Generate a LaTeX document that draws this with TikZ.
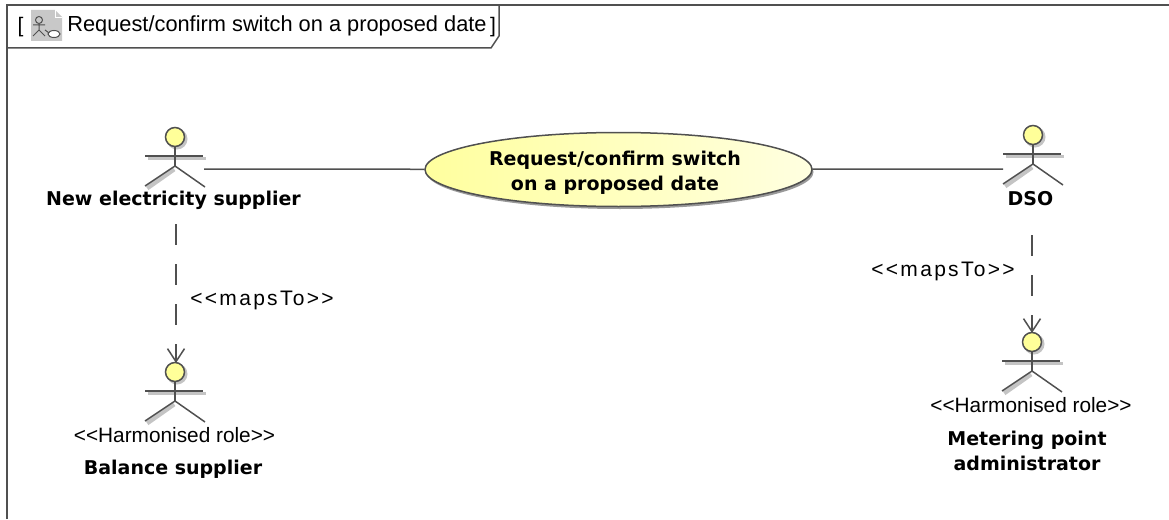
\documentclass[tikz,border=0pt]{standalone}
\usepackage{fontspec}
\setmainfont{Liberation Sans}
\newfontfamily\namefont{DejaVu Sans}
\newfontfamily\mapsfont[LetterSpace=11]{Liberation Sans}
\usetikzlibrary{shapes.geometric,arrows.meta,shadows}
\definecolor{framegray}{HTML}{505050}
\definecolor{headyellow}{HTML}{FFFF99}
\definecolor{shadowgray}{HTML}{C4C4C4}
\definecolor{icongray}{HTML}{C8C8C8}
\tikzset{
    umlline/.style={draw=framegray,line width=1.5pt},
    maps/.style={umlline,dash pattern=on 21pt off 19pt,-{Straight Barb[length=13pt,width=17pt]}},
    rolename/.style={font=\fontsize{19}{25}\namefont\bfseries,align=center,inner sep=0pt},
    stereo/.style={font=\fontsize{20.8}{24}\selectfont,inner sep=0pt},
    mapsto/.style={font=\fontsize{21}{24}\mapsfont,inner sep=0pt},
    usecase/.style={ellipse,draw=framegray,line width=1.5pt,minimum width=387pt,minimum height=74pt,inner sep=0pt,
        left color=headyellow!95!white,right color=headyellow!30!white,
        drop shadow={shadow xshift=1.5pt,shadow yshift=-2.5pt,fill=black,opacity=.4}},
    pics/stickman/.style={code={
        \draw[shadowgray,line width=3pt] (-27,21) -- (31,21);
        \draw[shadowgray,line width=5pt] (-1,32) -- (-28,51);
        \fill[shadowgray] (2,2) circle (10.5);
        \draw[umlline] (0,10) -- (0,29);
        \draw[umlline] (-30,19) -- (28,19);
        \draw[umlline] (-30,49) -- (0,29) -- (30,50);
        \draw[umlline,fill=headyellow] (0,0) circle (9.5);
    }}
}
\begin{document}
\begin{tikzpicture}[x=1pt,y=-1pt]
    \useasboundingbox (0,0) rectangle (1169,519);
    % frame
    \draw[umlline] (7,519) -- (7,5) -- (1169,5);
    \draw[umlline] (7,48) -- (491,48) -- (499,36) -- (499,5);
    % icon
    \fill[icongray] (31,10) -- (55,10) -- (62,17) -- (62,41) -- (31,41) -- cycle;
    \draw[white,line width=.8pt] (55,10) -- (55,17) -- (62,17);
    \draw[framegray,line width=1pt] (39,20) circle (3.5) (39,23) -- (39,30) (33,25) -- (45,25) (33,36) -- (39,30) -- (45,36);
    \draw[framegray,fill=white,line width=1pt] (54,34) ellipse (6 and 3.5);
    \draw[framegray,line width=1pt] (45,30) -- (49,33);
    \node[font=\fontsize{21}{24}\selectfont,inner sep=0pt] (bropen) at (20.5,27) {[};
    \node[font=\fontsize{21}{24}\selectfont,inner sep=0pt] (brclose) at (493,27) {]};
    \node[font=\fontsize{21.8}{24}\selectfont,inner sep=0pt] (title) at (277,26) {Request/confirm switch on a proposed date};
    % actors
    \pic at (175,137) {stickman};
    \pic at (1033,135) {stickman};
    \pic at (175,372) {stickman};
    \pic at (1032,342) {stickman};
    \node[rolename] (supplier) at (173.5,200) {New electricity supplier};
    \node[rolename] (dso) at (1030.5,199) {DSO};
    \node[stereo] (stereoa) at (174.5,435) {<{}<Harmonised role>{}>};
    \node[rolename] (balance) at (173,469) {Balance supplier};
    \node[stereo] (stereob) at (1031,405) {<{}<Harmonised role>{}>};
    \node[rolename] (metering) at (1027,450.5) {Metering point\\administrator};
    % use case
    \node[usecase] (request) at (618.5,169.5) {};
    \node[rolename] (requesttext) at (615,172.5) {Request/confirm switch\\on a proposed date};
    % links
    \coordinate (suppliertop) at (176,224);
    \coordinate (balancehead) at (176,363);
    \coordinate (dsotop) at (1032,235);
    \coordinate (meteringhead) at (1032,333);
    \coordinate (supplierarm) at (204,169);
    \coordinate (dsoarm) at (1003,169);
    \draw[umlline] (supplierarm) -- (request);
    \draw[umlline] (request) -- (dsoarm);
    \draw[maps] (suppliertop) -- (balancehead);
    \draw[maps] (dsotop) -- (meteringhead);
    \node[mapsto] (mapsa) at (262,300) {<{}<mapsTo>{}>};
    \node[mapsto] (mapsb) at (943,271) {<{}<mapsTo>{}>};
\end{tikzpicture}
\end{document}
